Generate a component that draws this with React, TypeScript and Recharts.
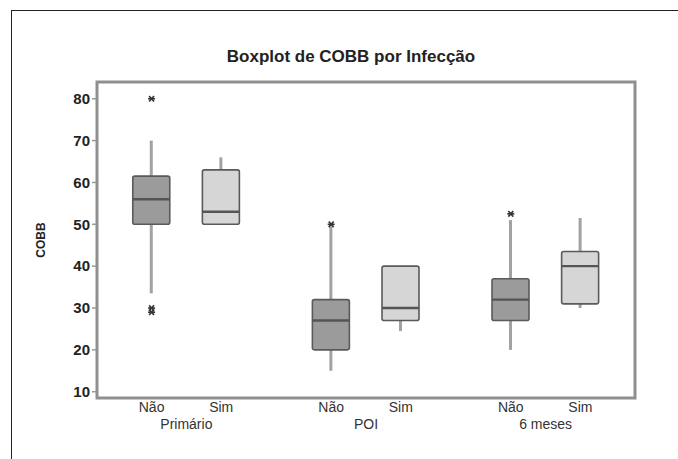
import React from "react";
import {
  ComposedChart,
  Bar,
  Scatter,
  XAxis,
  YAxis,
  ReferenceArea,
} from "recharts";

const groups = ["Primário", "POI", "6 meses"];
const infeccao = ["Não", "Sim"];

// one entry per box: Primário Não, Primário Sim, POI Não, POI Sim, 6 meses Não, 6 meses Sim
const mins = [33.5, 50, 15, 24.5, 20, 30];
const q1s = [50, 50, 20, 27, 27, 31];
const medians = [56, 53, 27, 30, 32, 40];
const q3s = [61.5, 63, 32, 40, 37, 43.5];
const maxs = [70, 66, 49.5, 40, 51, 51.5];

const outlierBox = [0, 0, 0, 2, 4];
const outlierValues = [80, 30, 29, 50, 52.5];

const yTicks = [10, 20, 30, 40, 50, 60, 70, 80];

const FONT = "'Liberation Sans', Arial, sans-serif";
const GROUP_STEP = 2.58;
const xDomain: [number, number] = [0.216, 7.944];
const yDomain: [number, number] = [8.5, 84];

const posOf = (i: number) => 1 + Math.floor(i / 2) * GROUP_STEP + (i % 2);

const boxes = mins.map((_, i) => ({
  x: posOf(i),
  kind: i % 2,
  min: mins[i],
  q1: q1s[i],
  median: medians[i],
  q3: q3s[i],
  max: maxs[i],
}));

const outliers = outlierBox.map((b, i) => ({ x: posOf(b), y: outlierValues[i] }));

const subTicks = boxes.map((b) => b.x);
const groupTicks = groups.map((_, g) => posOf(g * 2) + 0.5);

const BoxShape = (props: any) => {
  const { x, y, width, height, payload } = props;
  const d = payload;
  const k = height / (d.q3 - d.q1);
  const toY = (v: number) => y + (d.q3 - v) * k;
  const cx = x + width / 2;
  const fill = d.kind === 0 ? "#9b9b9b" : "#d6d6d6";
  return (
    <g>
      <line x1={cx} x2={cx} y1={toY(d.max)} y2={y} stroke="#a2a2a2" strokeWidth={3} />
      <line x1={cx} x2={cx} y1={y + height} y2={toY(d.min)} stroke="#a2a2a2" strokeWidth={3} />
      <rect x={x} y={y} width={width} height={height} rx={2} fill={fill} stroke="#5a5a5a" strokeWidth={1.6} />
      <line x1={x} x2={x + width} y1={toY(d.median)} y2={toY(d.median)} stroke="#555" strokeWidth={2.4} />
    </g>
  );
};

const Star = (props: any) => {
  const { cx, cy } = props;
  const r = 3.5;
  return (
    <g stroke="#333" strokeWidth={1.6}>
      <line x1={cx - r} x2={cx + r} y1={cy} y2={cy} />
      <line x1={cx - r * 0.7} x2={cx + r * 0.7} y1={cy - r * 0.8} y2={cy + r * 0.8} />
      <line x1={cx - r * 0.7} x2={cx + r * 0.7} y1={cy + r * 0.8} y2={cy - r * 0.8} />
    </g>
  );
};

export default function App() {
  return (
    <div style={{ position: "absolute", left: 0, top: 0, width: 678, height: 459, background: "#fff", fontFamily: FONT }}>
      <div
        style={{
          position: "absolute",
          left: 11,
          top: 10,
          width: 667,
          height: 449,
          borderTop: "1.5px solid #222",
          borderLeft: "1.5px solid #222",
        }}
      />
      <div
        style={{
          position: "absolute",
          left: 151,
          width: 400,
          top: 47,
          textAlign: "center",
          fontWeight: "bold",
          fontSize: 17,
          color: "#222",
        }}
      >
        Boxplot de COBB por Infecção
      </div>
      <ComposedChart
        width={678}
        height={459}
        data={boxes}
        margin={{ top: 82, right: 43, bottom: 23, left: 0 }}
        style={{ position: "absolute", left: 0, top: 0 }}
      >
        <XAxis
          xAxisId="a"
          dataKey="x"
          type="number"
          domain={xDomain}
          allowDataOverflow
          ticks={subTicks}
          tickFormatter={(v: number) => infeccao[subTicks.indexOf(v) % 2]}
          axisLine={false}
          tickLine={false}
          tickSize={2}
          tickMargin={2}
          height={18}
          tick={{ fill: "#333", fontSize: 14, fontFamily: FONT }}
          interval={0}
        />
        <XAxis
          xAxisId="b"
          dataKey="x"
          type="number"
          domain={xDomain}
          allowDataOverflow
          ticks={groupTicks}
          tickFormatter={(v: number) => groups[groupTicks.indexOf(v)]}
          axisLine={false}
          tickLine={false}
          tickSize={0}
          tickMargin={3}
          height={20}
          tick={{ fill: "#333", fontSize: 14, fontFamily: FONT }}
          interval={0}
        />
        <YAxis
          type="number"
          domain={yDomain}
          allowDataOverflow
          ticks={yTicks}
          width={97}
          axisLine={false}
          tickLine={{ stroke: "#999", strokeWidth: 1.5 }}
          tickSize={5}
          tickMargin={2}
          tick={{ fill: "#222", fontSize: 15, fontWeight: "bold", fontFamily: FONT }}
          label={{
            value: "COBB",
            angle: -90,
            position: "center",
            dx: -8,
            style: { fontSize: 12, fontWeight: "bold", fill: "#222", fontFamily: FONT },
          }}
        />
        <ReferenceArea
          xAxisId="a"
          x1={xDomain[0]}
          x2={xDomain[1]}
          y1={yDomain[0]}
          y2={yDomain[1]}
          fill="none"
          stroke="#8f8f8f"
          strokeWidth={3}
          fillOpacity={0}
        />
        <Bar
          xAxisId="a"
          dataKey={(d: any) => [d.q1, d.q3]}
          barSize={37}
          shape={BoxShape}
          isAnimationActive={false}
        />
        <Scatter
          xAxisId="a"
          data={outliers}
          dataKey="y"
          shape={Star}
          isAnimationActive={false}
        />
      </ComposedChart>
    </div>
  );
}
